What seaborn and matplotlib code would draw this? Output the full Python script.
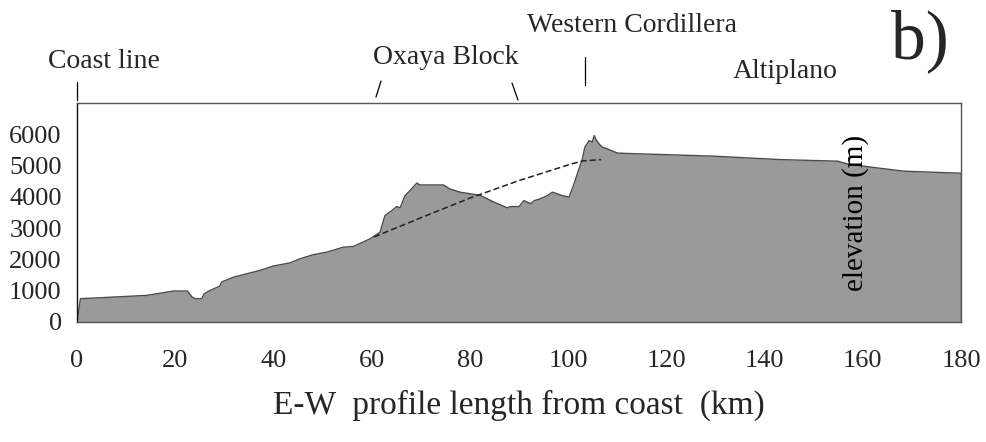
import matplotlib
matplotlib.use("Agg")
import matplotlib.pyplot as plt
import seaborn as sns
import pandas as pd
import numpy as np

# E-W topographic profile (km from coast, elevation m)
dist_km = [0, 0.7, 14.2, 19.7, 22.5, 23.4, 24.1, 25.4, 25.9, 27.1, 29.0, 29.5,
           31.9, 37.3, 40.0, 43.4, 45.4, 48.1, 50.8, 54.2, 56.3, 59.7, 61.7,
           62.7, 64.1, 65.1, 65.8, 66.8, 67.8, 69.2, 69.8, 74.6, 75.9, 78.0,
           80.0, 82.2, 84.9, 87.6, 88.3, 90.0, 91.0, 91.7, 92.4, 93.1, 94.1,
           95.8, 96.8, 98.8, 100.2, 101.2, 102.2, 102.9, 103.4, 104.3, 104.9,
           105.3, 105.6, 106.3, 107.0, 108.0, 110.0, 111.4, 129.7, 143.3,
           154.9, 156.9, 161.6, 168.4, 180.0]
elev_m = [0, 745, 850, 990, 990, 800, 745, 745, 900, 1010, 1140, 1280,
          1435, 1650, 1790, 1890, 2020, 2150, 2230, 2390, 2415, 2660, 2870,
          3400, 3560, 3690, 3650, 4040, 4200, 4440, 4380, 4380, 4255, 4150,
          4100, 4040, 3830, 3650, 3690, 3690, 3880, 3830, 3780, 3880, 3925,
          4040, 4150, 4040, 3990, 4415, 4890, 5210, 5585, 5800, 5745,
          5960, 5850, 5690, 5585, 5530, 5400, 5390, 5300, 5190,
          5140, 5050, 4950, 4820, 4755]

# dashed reconstruction line under the Oxaya Block
dash_km = [60.5, 70, 80, 90, 100, 103, 106.7]
dash_m = [2720, 3330, 3960, 4520, 5020, 5150, 5190]

x_ticks = [0, 20, 40, 60, 80, 100, 120, 140, 160, 180]
y_ticks = [0, 1000, 2000, 3000, 4000, 5000, 6000]

profile = pd.DataFrame({"km": dist_km, "elev": elev_m})
dashed = pd.DataFrame({"km": dash_km, "elev": dash_m})

sns.set_style("white")
plt.rcParams["font.family"] = ["Liberation Serif", "DejaVu Serif"]

fig = plt.figure(figsize=(9.87, 4.42), dpi=100)
ax = fig.add_axes([0.078, 0.2715, 0.8957, 0.4955])

ax.fill_between(profile["km"], profile["elev"], 0, color="#9a9a9a", linewidth=0)
sns.lineplot(data=profile, x="km", y="elev", ax=ax, color="#4a4a4a",
             linewidth=1.0, sort=False, estimator=None)
sns.lineplot(data=dashed, x="km", y="elev", ax=ax, color="#222222",
             linewidth=1.1, linestyle=(0, (4, 2)), sort=False, estimator=None)
ax.vlines(180, 0, elev_m[-1], color="#4a4a4a", linewidth=1.0)

ax.set_xlim(0, 180)
ax.set_ylim(0, 7000)
ax.set_xticks(x_ticks)
ax.set_yticks(y_ticks)
ax.tick_params(axis="both", which="both", direction="out", length=4,
               width=0.8, color="#333333", labelsize=19, pad=7)
ax.tick_params(axis="x", pad=16)
ax.set_xlabel("E-W  profile length from coast  (km)", fontsize=24, labelpad=13)
ax.set_ylabel("")

for side in ["top", "right", "bottom"]:
    ax.spines[side].set_color("#555555")
    ax.spines[side].set_linewidth(1.0)
ax.spines["left"].set_color("#111111")
ax.spines["left"].set_linewidth(1.0)

ax.text(158.5, 3500, "elevation (m)", rotation=90, ha="center", va="center",
        fontsize=21, color="black")

# labels above the profile
def fx(px):
    return px / 987.0

def fy(py):
    return 1 - py / 442.0

fig.text(fx(104), fy(62), "Coast line", ha="center", va="center", fontsize=20)
fig.text(fx(446), fy(57), "Oxaya Block", ha="center", va="center", fontsize=20)
fig.text(fx(632), fy(26), "Western Cordillera", ha="center", va="center", fontsize=20)
fig.text(fx(785), fy(72), "Altiplano", ha="center", va="center", fontsize=20)
fig.text(fx(920), fy(58), "b)", ha="center", va="baseline", fontsize=50)

fig.add_artist(plt.Line2D([fx(77), fx(77)], [fy(82), fy(100)], color="black", lw=0.9))
fig.add_artist(plt.Line2D([fx(376), fx(381)], [fy(97), fy(81)], color="black", lw=0.9))
fig.add_artist(plt.Line2D([fx(512), fx(518)], [fy(83), fy(100)], color="black", lw=0.9))
fig.add_artist(plt.Line2D([fx(585), fx(585)], [fy(57), fy(85)], color="black", lw=0.9))

fig.savefig("out.png", dpi=100)
